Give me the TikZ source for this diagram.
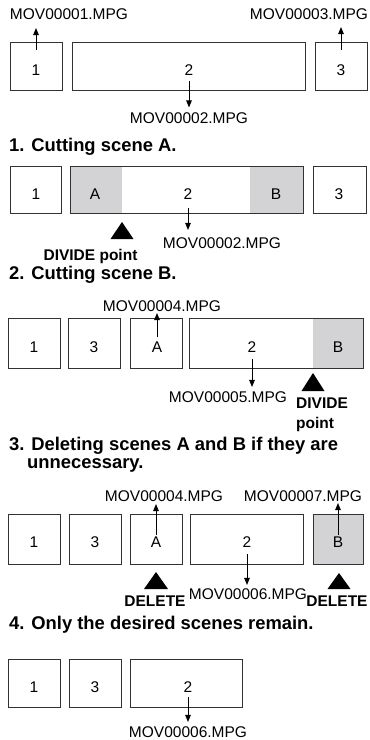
\documentclass[tikz,border=0pt]{standalone}
\usepackage{fontspec}
\setmainfont{Liberation Sans}
\usetikzlibrary{arrows.meta,calc}
\definecolor{shadegray}{RGB}{211,211,213}
\definecolor{boxline}{RGB}{50,50,50}
\tikzset{
  box/.style={draw=boxline, line width=0.9pt, inner sep=0pt, anchor=north west},
  shd/.style={fill=shadegray, inner sep=0pt, anchor=north west},
  lbl/.style={font=\fontsize{15.5}{18}\selectfont, inner sep=0pt, anchor=base},
  fname/.style={font=\fontsize{15.5}{18}\selectfont, inner sep=0pt, anchor=base},
  hd/.style={font=\bfseries\fontsize{18.4}{18.4}\selectfont, inner sep=0pt, anchor=base west},
  bl/.style={font=\bfseries\fontsize{15.5}{20}\selectfont, inner sep=0pt, anchor=base},
  arr/.style={line width=0.9pt, draw=black, -{Triangle[width=5.5pt,length=7pt]}},
  tri/.style={fill=black}
}
\begin{document}
\begin{tikzpicture}[x=1pt,y=-1pt]
\useasboundingbox (0,0) rectangle (370,740);

% ---------- Row 1 ----------
\node[box,minimum width=52pt,minimum height=48pt] (b11) at (10,42) {};
\node[box,minimum width=233pt,minimum height=48pt] (b12) at (72,42) {};
\node[box,minimum width=52pt,minimum height=48pt] (b13) at (315,42) {};
\node[lbl] (t11) at (36,75) {1};
\node[lbl] (t12) at (189,75) {2};
\node[lbl] (t13) at (341,75) {3};
\node[fname] (m11) at (69,19.5) {MOV00001.MPG};
\node[fname] (m13) at (309,19.5) {MOV00003.MPG};
\node[fname] (m12) at (189,123.5) {MOV00002.MPG};
\draw[arr] ($(t11|-b11.north)+(0,8)$) -- ($(t11|-m11.base)+(0,8.5)$);
\draw[arr] ($(t13|-b13.north)+(0,8)$) -- ($(t13|-m13.base)+(0,7.5)$);
\draw[arr] ($(t12|-b12.south)+(0,-10)$) -- ($(t12|-m12.north)+(0,-5)$);

% ---------- Heading 1 ----------
\node[hd] (h1) at (9,151) {1. Cutting scene A.};

% ---------- Row 2 ----------
\node[shd,minimum width=52pt,minimum height=47pt] (s21) at (70,166) {};
\node[shd,minimum width=53pt,minimum height=47pt] (s22) at (250,166) {};
\node[box,minimum width=51pt,minimum height=47pt] (b21) at (10,166) {};
\node[box,minimum width=233pt,minimum height=47pt] (b22) at (70,166) {};
\node[box,minimum width=53pt,minimum height=47pt] (b23) at (313,166) {};
\node[lbl] (t21) at (36,199) {1};
\node[lbl] (t2a) at (95,199) {A};
\node[lbl] (t22) at (188,199) {2};
\node[lbl] (t2b) at (276,199) {B};
\node[lbl] (t23) at (339,199) {3};
\node[fname] (m21) at (222,248) {MOV00002.MPG};
\draw[arr] ($(t22|-b22.south)+(0,-6)$) -- ($(t22|-m21.north)+(0,-7)$);
\fill[tri] (122,222) -- (133.5,239) -- (110.5,239) -- cycle;
\node[bl] (d1) at (90.5,260.5) {DIVIDE point};

% ---------- Heading 2 ----------
\node[hd] (h2) at (9,279) {2. Cutting scene B.};

% ---------- Row 3 ----------
\node[shd,minimum width=50pt,minimum height=50pt] (s31) at (313,318) {};
\node[box,minimum width=52pt,minimum height=50pt] (b31) at (8,318) {};
\node[box,minimum width=52pt,minimum height=50pt] (b32) at (68,318) {};
\node[box,minimum width=52pt,minimum height=50pt] (b33) at (130,318) {};
\node[box,minimum width=174pt,minimum height=50pt] (b34) at (189,318) {};
\node[lbl] (t31) at (34,352) {1};
\node[lbl] (t32) at (94,352) {3};
\node[lbl] (t33) at (157,352) {A};
\node[lbl] (t34) at (252,352) {2};
\node[lbl] (t3b) at (338,352) {B};
\node[fname] (m31) at (162,311) {MOV00004.MPG};
\node[fname] (m32) at (228,402) {MOV00005.MPG};
\draw[arr] ($(t33|-b33.north)+(0,19)$) -- ($(t33|-m31.base)+(0,2)$);
\draw[arr] ($(t34|-b34.south)+(0,-10)$) -- ($(t34|-m32.north)+(0,-4)$);
\fill[tri] (313,373) -- (324.5,391) -- (301.5,391) -- cycle;
\node[bl,anchor=base west] (d2) at (296,408) {DIVIDE};
\node[bl,anchor=base west] (d3) at (296,428) {point};

% ---------- Heading 3 ----------
\node[hd] (h3) at (9,450.5) {3. Deleting scenes A and B if they are};
\node[hd] (h3b) at (27,468.5) {unnecessary.};

% ---------- Row 4 ----------
\node[box,minimum width=52pt,minimum height=50pt] (b41) at (8,514) {};
\node[box,minimum width=52pt,minimum height=50pt] (b42) at (69,514) {};
\node[box,minimum width=52pt,minimum height=50pt] (b43) at (130,514) {};
\node[box,minimum width=113pt,minimum height=50pt] (b44) at (190,514) {};
\node[box,fill=shadegray,minimum width=50pt,minimum height=50pt] (b45) at (313,514) {};
\node[lbl] (t41) at (34,547.5) {1};
\node[lbl] (t42) at (95,547.5) {3};
\node[lbl] (t43) at (156,547.5) {A};
\node[lbl] (t44) at (247,547.5) {2};
\node[lbl] (t45) at (338,547.5) {B};
\node[fname] (m41) at (164,501) {MOV00004.MPG};
\node[fname] (m42) at (303,501) {MOV00007.MPG};
\node[fname] (m43) at (248,599) {MOV00006.MPG};
\draw[arr] ($(t43|-b43.north)+(0,21)$) -- ($(t43|-m41.base)+(0,3)$);
\draw[arr] ($(t45|-b45.north)+(0,21)$) -- ($(t45|-m42.base)+(0,2)$);
\draw[arr] ($(t44|-b44.south)+(0,-11)$) -- ($(t44|-m43.north)+(0,-3)$);
\fill[tri] (156,572) -- (168,589) -- (144,589) -- cycle;
\fill[tri] (339,573) -- (350.5,589) -- (327.5,589) -- cycle;
\node[bl] (e1) at (155,606) {DELETE};
\node[bl] (e2) at (337,606) {DELETE};

% ---------- Heading 4 ----------
\node[hd] (h4) at (9,629.5) {4. Only the desired scenes remain.};

% ---------- Row 5 ----------
\node[box,minimum width=52pt,minimum height=48pt] (b51) at (8,659) {};
\node[box,minimum width=52pt,minimum height=48pt] (b52) at (69,659) {};
\node[box,minimum width=112pt,minimum height=48pt] (b53) at (130,659) {};
\node[lbl] (t51) at (34,692) {1};
\node[lbl] (t52) at (95,692) {3};
\node[lbl] (t53) at (188,692) {2};
\node[fname] (m51) at (188,737.5) {MOV00006.MPG};
\draw[arr] ($(t53|-b53.south)+(0,-11)$) -- ($(t53|-m51.north)+(0,-4.5)$);
\end{tikzpicture}
\end{document}
